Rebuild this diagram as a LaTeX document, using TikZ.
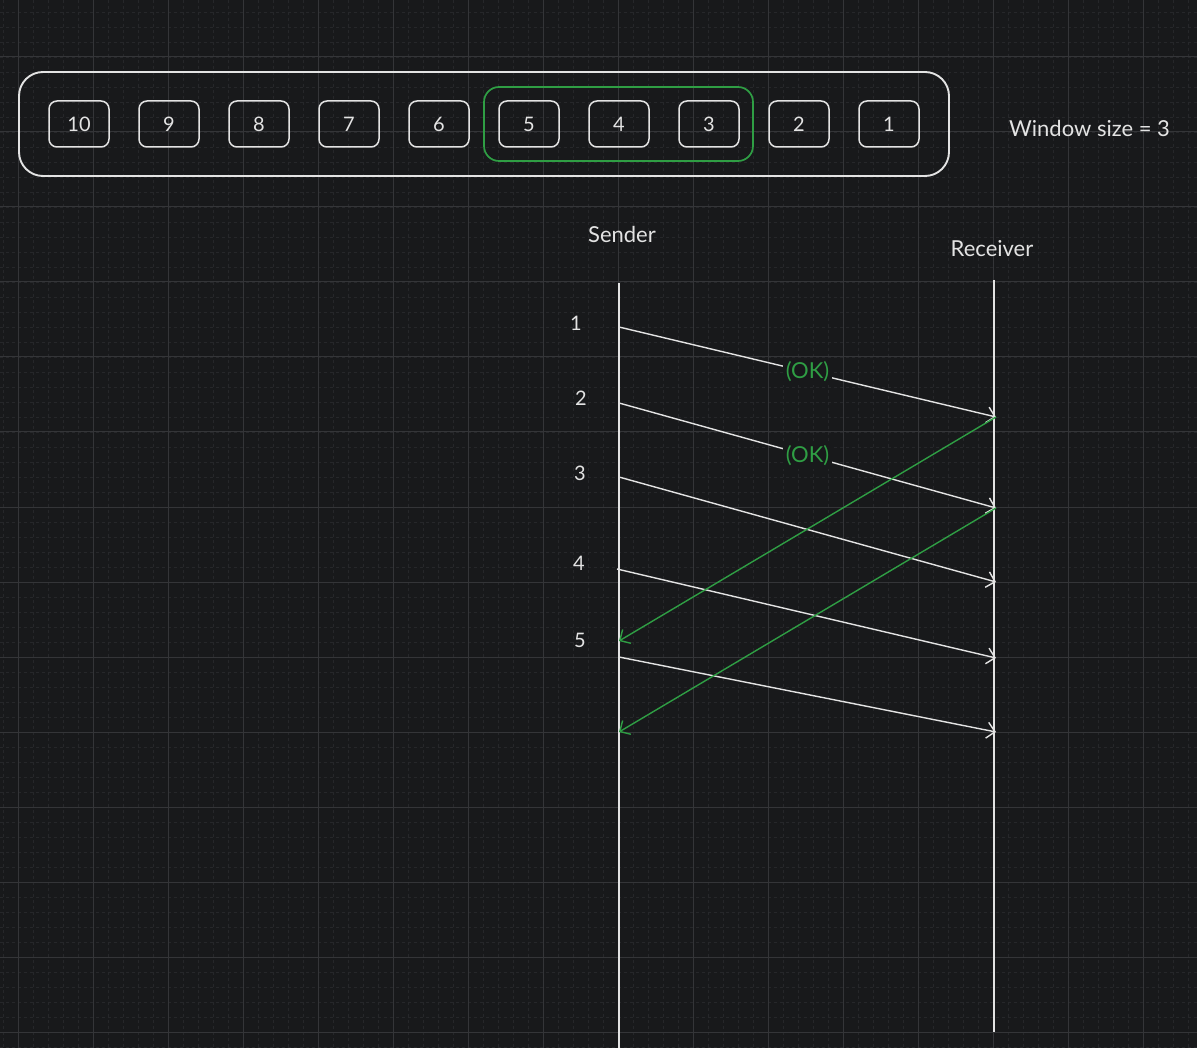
\documentclass[tikz,border=0pt]{standalone}
\usepackage{fontspec}
\setmainfont{Lato}
\usetikzlibrary{arrows.meta}
\definecolor{bg}{HTML}{18191B}
\definecolor{ink}{HTML}{E3E3E3}
\definecolor{okgreen}{HTML}{2F9E44}
\definecolor{gridmajor}{HTML}{343538}
\definecolor{gridminor}{HTML}{26272A}
\begin{document}
\begin{tikzpicture}[x=1pt,y=-1pt,
  cell/.style={draw=ink, line width=1.5pt, rounded corners=8pt, minimum width=60pt, minimum height=46pt, text=ink, font=\fontsize{20}{24}\selectfont, inner sep=0pt},
  lbl/.style={text=ink, font=\fontsize{22}{26}\selectfont, inner sep=1pt},
  num/.style={text=ink, font=\fontsize{20}{24}\selectfont, inner sep=1pt},
  life/.style={draw=ink, line width=1.6pt},
  msg/.style={draw=ink, line width=1.4pt, -{Straight Barb[length=8pt,width=16pt,line width=1.4pt]}},
  ack/.style={draw=okgreen, line width=1.4pt, -{Straight Barb[length=8pt,width=16pt,line width=1.4pt]}},
  oklabel/.style={fill=bg, text=okgreen, font=\fontsize{22}{26}\selectfont, inner sep=3pt}
]
\useasboundingbox (0,0) rectangle (1197,1048);
\fill[bg] (0,0) rectangle (1197,1048);
% minor grid
\foreach \x in {3,18,...,1197} \draw[gridminor, line width=0.8pt, dash pattern=on 3pt off 3pt] (\x,0) -- (\x,1048);
\foreach \y in {12,27,...,1048} \draw[gridminor, line width=0.8pt, dash pattern=on 3pt off 3pt] (0,\y) -- (1197,\y);
% major grid
\foreach \x in {18,93,...,1197} \draw[gridmajor, line width=1pt] (\x,0) -- (\x,1048);
\foreach \y in {57,132,...,1048} \draw[gridmajor, line width=1pt] (0,\y) -- (1197,\y);

% strip of packets
\node[draw=ink, line width=1.9pt, rounded corners=24pt, minimum width=930pt, minimum height=104pt] (strip) at (484,124) {};
\node[draw=okgreen, line width=1.7pt, rounded corners=15pt, minimum width=269pt, minimum height=74pt] (window) at (618.5,124) {};
\node[cell] (b10) at (79,124) {10};
\node[cell] (b9) at (169,124) {9};
\node[cell] (b8) at (259,124) {8};
\node[cell] (b7) at (349,124) {7};
\node[cell] (b6) at (439,124) {6};
\node[cell] (b5) at (529,124) {5};
\node[cell] (b4) at (619,124) {4};
\node[cell] (b3) at (709,124) {3};
\node[cell] (b2) at (799,124) {2};
\node[cell] (b1) at (889,124) {1};
\node[lbl, anchor=west] (wsize) at (1008,128) {Window size = 3};

% lifelines
\node[lbl] (sender) at (622,234) {Sender};
\node[lbl] (receiver) at (992,249) {Receiver};
\coordinate (stop) at (619,283);
\coordinate (sbot) at (619,1048);
\coordinate (rtop) at (994,280);
\coordinate (rbot) at (994,1032);
\draw[life] (stop) -- (sbot);
\draw[life] (rtop) -- (rbot);

% sequence numbers
\node[num] (n1) at (576,323) {1};
\node[num] (n2) at (581,398) {2};
\node[num] (n3) at (580,473) {3};
\node[num] (n4) at (579,563) {4};
\node[num] (n5) at (580,640) {5};

% send points
\coordinate (s1) at (619,327);
\coordinate (s2) at (619,403);
\coordinate (s3) at (619,477);
\coordinate (s4) at (617,569);
\coordinate (s5) at (619,657);
\coordinate (a1) at (619,641);
\coordinate (a2) at (619,732);
% receive points
\coordinate (r1) at (996,417);
\coordinate (r2) at (996,508);
\coordinate (r3) at (996,582);
\coordinate (r4) at (996,658);
\coordinate (r5) at (996,732);

\draw[msg] (s1) -- node[oklabel] {(OK)} (r1);
\draw[msg] (s2) -- node[oklabel] {(OK)} (r2);
\draw[msg] (s3) -- (r3);
\draw[msg] (s4) -- (r4);
\draw[msg] (s5) -- (r5);
\draw[ack] (r1) -- (a1);
\draw[ack] (r2) -- (a2);
\end{tikzpicture}
\end{document}
